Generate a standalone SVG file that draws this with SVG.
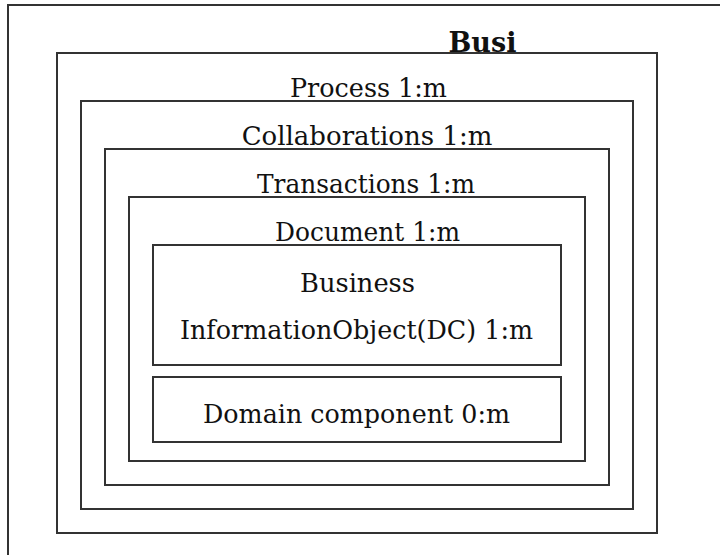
<svg xmlns="http://www.w3.org/2000/svg" width="720" height="555" viewBox="0 0 720 555">
<style>
  .box { fill: none; stroke: #333; stroke-width: 2; }
  .t { font-family: "DejaVu Serif", "Liberation Serif", serif; font-size: 26px; fill: #111; text-anchor: middle; }
  .b { font-family: "DejaVu Serif", "Liberation Serif", serif; font-size: 27px; font-weight: bold; fill: #111; text-anchor: middle; }
</style>
<rect x="0" y="0" width="720" height="555" fill="#fff"/>
<g id="frame">
  <path class="box" d="M8,560 V5 H725"/>
  <text class="b" x="482.5" y="52">Busi</text>
</g>
<g id="busi">
  <rect class="box" x="57" y="53" width="600" height="480"/>
  <text class="t" x="368.5" y="97" textLength="157" lengthAdjust="spacingAndGlyphs">Process 1:m</text>
</g>
<g id="process">
  <rect class="box" x="81" y="101" width="552" height="408"/>
  <text class="t" x="367" y="145">Collaborations 1:m</text>
</g>
<g id="collaborations">
  <rect class="box" x="105" y="149" width="504" height="336"/>
  <text class="t" x="366" y="193" textLength="218" lengthAdjust="spacingAndGlyphs">Transactions 1:m</text>
</g>
<g id="transactions">
  <rect class="box" x="129" y="197" width="456" height="264"/>
  <text class="t" x="367.5" y="241" textLength="185" lengthAdjust="spacingAndGlyphs">Document 1:m</text>
</g>
<g id="document">
  <rect class="box" x="153" y="245" width="408" height="120"/>
  <text class="t" x="357.5" y="292" textLength="115" lengthAdjust="spacingAndGlyphs">Business</text>
  <text class="t" x="356.5" y="339" textLength="353" lengthAdjust="spacingAndGlyphs">InformationObject(DC) 1:m</text>
</g>
<g id="domain">
  <rect class="box" x="153" y="377" width="408" height="65"/>
  <text class="t" x="356.5" y="423" textLength="307" lengthAdjust="spacingAndGlyphs">Domain component 0:m</text>
</g>
<g id="connectors"/>
</svg>
